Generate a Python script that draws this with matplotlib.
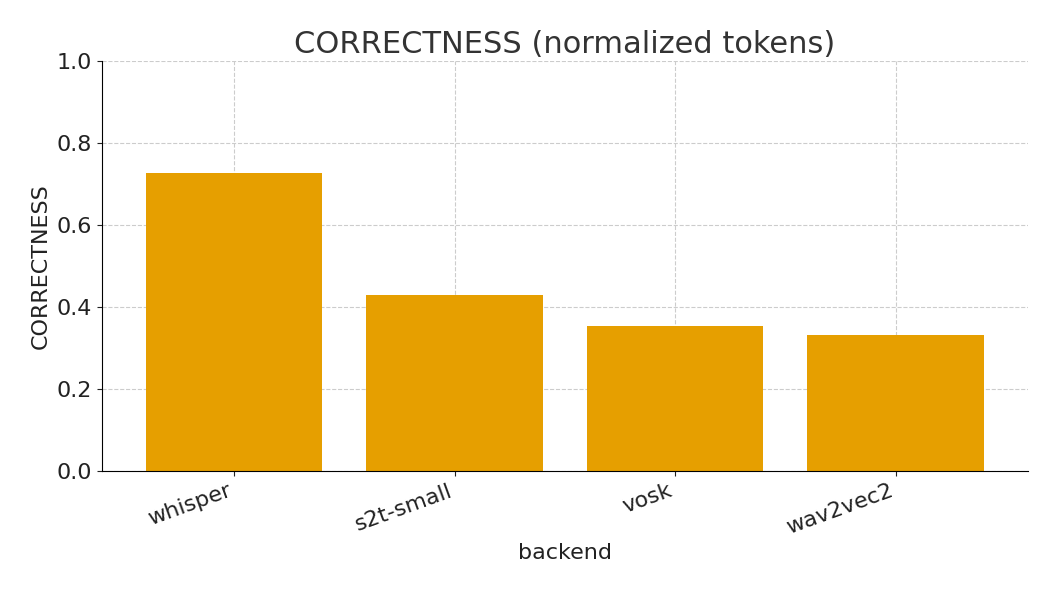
import matplotlib.pyplot as plt

backends = ['whisper', 's2t-small', 'vosk', 'wav2vec2']
correctness = [0.727, 0.429, 0.354, 0.332]

fig, ax = plt.subplots(figsize=(10.5, 6), dpi=100)
fig.subplots_adjust(left=0.097, right=0.979, top=0.898, bottom=0.215)

ax.bar(backends, correctness, color='#E69F00', width=0.8, zorder=2)
ax.set_ylim(0, 1.0)
ax.set_xlim(-0.6, 3.6)
ax.grid(True, linestyle='--', color='#cccccc', linewidth=0.8, zorder=0)
ax.spines['top'].set_visible(False)
ax.spines['right'].set_visible(False)
ax.tick_params(labelsize=16, colors='#222222')
plt.setp(ax.get_xticklabels(), rotation=20, ha='right')
ax.set_title('CORRECTNESS (normalized tokens)', fontsize=22, color='#333333')
ax.set_xlabel('backend', fontsize=16, color='#222222')
ax.set_ylabel('CORRECTNESS', fontsize=16, color='#222222')

fig.savefig('out.png')
